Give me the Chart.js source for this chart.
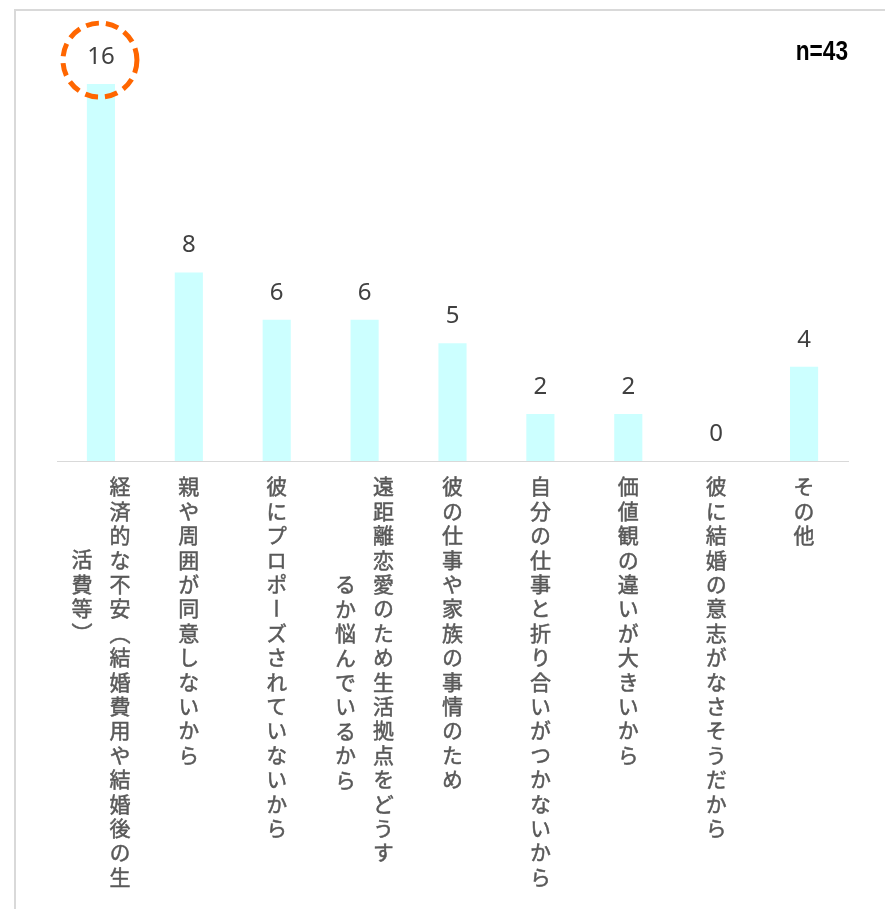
<!DOCTYPE html>
<html>
<head>
<meta charset="utf-8">
<script src="https://cdn.jsdelivr.net/npm/chart.js@4.4.1/dist/chart.umd.min.js"></script>
<style>
  html, body { margin: 0; padding: 0; background: #fff; }
  #wrap { position: relative; width: 885px; height: 909px; overflow: hidden; }
  #frame { position: absolute; left: 14px; top: 9px; right: -4px; bottom: -4px;
           border-top: 2px solid #d9d9d9; border-left: 2px solid #d9d9d9; }
  .xlabel { position: absolute; display: flex; flex-direction: row-reverse;
            font-family: "Noto Sans CJK JP", sans-serif; font-size: 21px; color: #595959;
            -webkit-text-stroke: 0.5px #595959; }
  .xlabel .col { writing-mode: vertical-rl; width: 38px; line-height: 38px;
                 letter-spacing: 3.4px; white-space: nowrap; }
</style>
</head>
<body>
<div id="wrap">
  <div id="frame"></div>
  <canvas id="reasonChart" width="885" height="909"></canvas>
</div>
<script>
// data
const categories = [
    ['経済的な不安（結婚費用や結婚後の生', '活費等）'],
    ['親や周囲が同意しないから'],
    ['彼にプロポーズされていないから'],
    ['遠距離恋愛のため生活拠点をどうす', 'るか悩んでいるから'],
    ['彼の仕事や家族の事情のため'],
    ['自分の仕事と折り合いがつかないから'],
    ['価値観の違いが大きいから'],
    ['彼に結婚の意志がなさそうだから'],
    ['その他']
];
const counts = [16, 8, 6, 6, 5, 2, 2, 0, 4];
const sampleNote = 'n=43';
const circledIndex = 0;

// layout only: where the wrapped second column starts (in characters)
const secondColIndent = [3, 0, 0, 4, 0, 0, 0, 0, 0];
const charAdvance = 24.4;

const extras = {
    id: 'extras',
    afterDatasetsDraw(chart) {
        const ctx = chart.ctx;
        const bars = chart.getDatasetMeta(0).data;
        ctx.save();
        ctx.font = '24px "Noto Sans", sans-serif';
        ctx.fillStyle = '#404040';
        ctx.textAlign = 'center';
        ctx.textBaseline = 'middle';
        bars.forEach((bar, i) => {
            ctx.fillText(String(counts[i]), bar.x, bar.y - 27);
        });
        // dashed highlight circle
        const b = bars[circledIndex];
        ctx.beginPath();
        ctx.setLineDash([13, 7]);
        ctx.lineWidth = 5;
        ctx.strokeStyle = '#ff6600';
        ctx.arc(b.x - 1, b.y - 24, 37, 0, Math.PI * 2);
        ctx.stroke();
        ctx.setLineDash([]);
        // sample size (narrow face)
        ctx.translate(chart.chartArea.right, 53);
        ctx.scale(0.84, 1);
        ctx.font = 'bold 27px "Liberation Sans", sans-serif';
        ctx.fillStyle = '#000';
        ctx.textAlign = 'right';
        ctx.fillText(sampleNote, 0, 0);
        ctx.restore();
    },
    afterDraw(chart) {
        const wrap = document.getElementById('wrap');
        wrap.querySelectorAll('.xlabel').forEach(el => el.remove());
        const xs = chart.scales.x;
        categories.forEach((cols, i) => {
            const div = document.createElement('div');
            div.className = 'xlabel';
            cols.forEach((txt, c) => {
                const col = document.createElement('div');
                col.className = 'col';
                col.textContent = txt;
                if (c > 0) col.style.paddingTop = (secondColIndent[i] * charAdvance) + 'px';
                div.appendChild(col);
            });
            div.style.top = (xs.bottom + 15) + 'px';
            div.style.left = (xs.getPixelForValue(i) - cols.length * 19) + 'px';
            wrap.appendChild(div);
        });
    }
};

new Chart(document.getElementById('reasonChart'), {
    type: 'bar',
    data: {
        labels: categories.map(c => c.join('')),
        datasets: [{
            data: counts,
            backgroundColor: '#ccffff',
            barPercentage: 0.32,
            categoryPercentage: 1
        }]
    },
    options: {
        responsive: false,
        animation: false,
        layout: {
            padding: { left: 57, right: 37, top: 37, bottom: 448 }
        },
        scales: {
            x: {
                grid: { display: false, drawTicks: false },
                border: { display: true, color: '#d9d9d9', width: 1 },
                ticks: { display: false }
            },
            y: {
                display: false,
                min: 0,
                max: 18
            }
        },
        plugins: {
            legend: { display: false },
            tooltip: { enabled: false }
        }
    },
    plugins: [extras]
});
</script>
</body>
</html>
